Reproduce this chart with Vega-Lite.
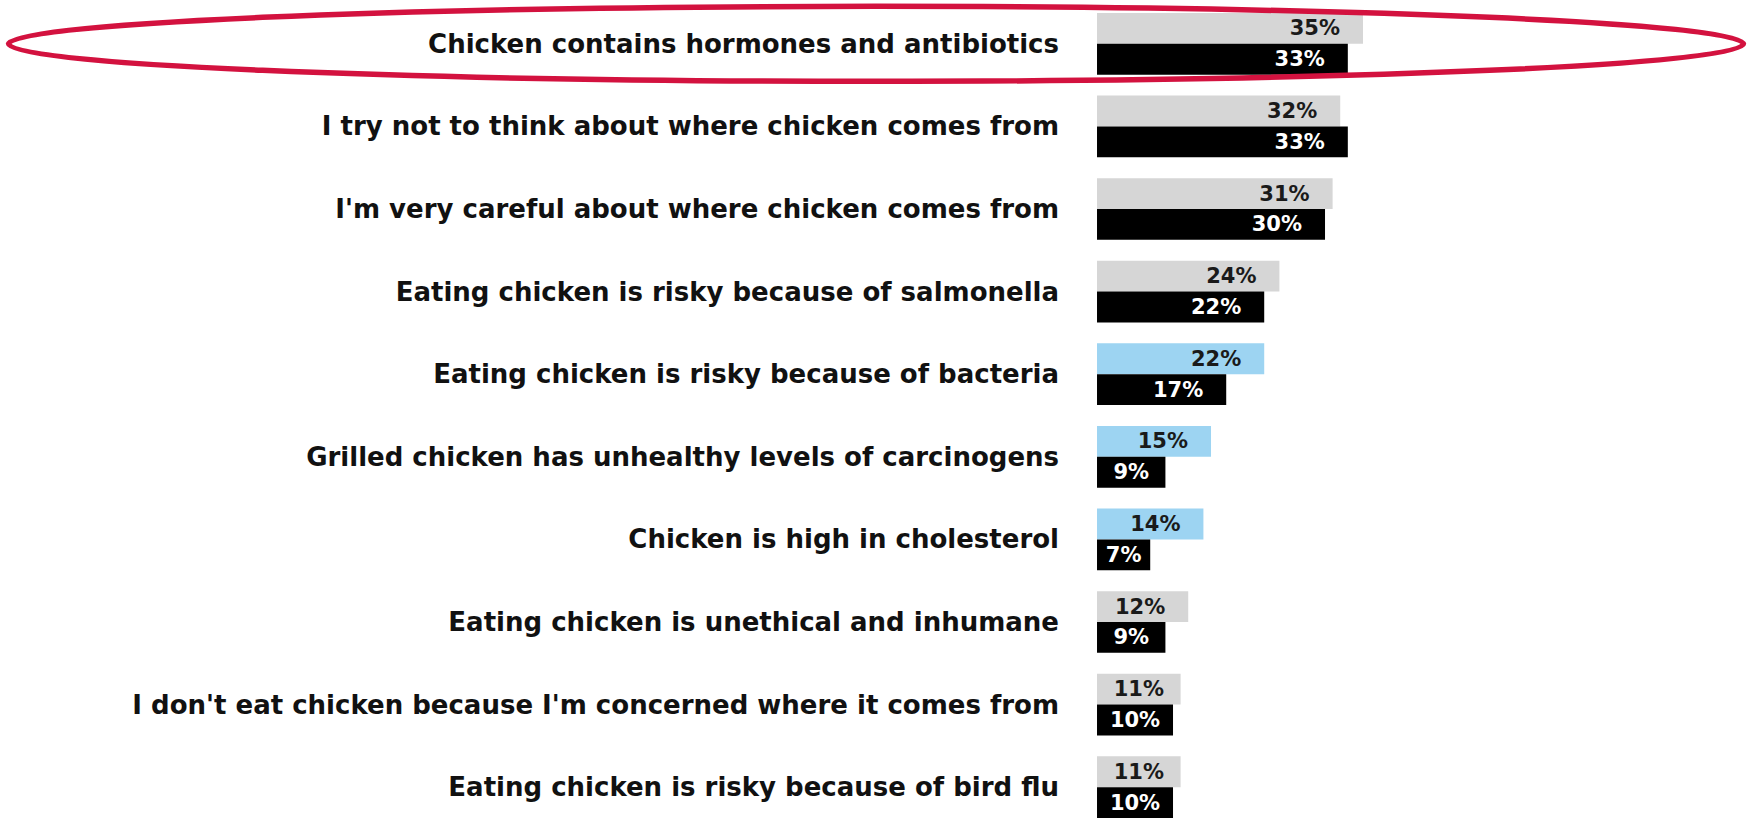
{
  "$schema": "https://vega.github.io/schema/vega-lite/v6.json",
  "width": 1752,
  "height": 805,
  "autosize": {"type": "none"},
  "padding": {"top": 13, "left": 0, "right": 0, "bottom": 0},
  "background": "white",
  "config": {"view": {"stroke": null}},
  "datasets": {
    "survey": [
      {"category": "Chicken contains hormones and antibiotics", "group": "A", "tone": "base", "share": 0.35},
      {"category": "Chicken contains hormones and antibiotics", "group": "B", "tone": "segment", "share": 0.33},
      {"category": "I try not to think about where chicken comes from", "group": "A", "tone": "base", "share": 0.32},
      {"category": "I try not to think about where chicken comes from", "group": "B", "tone": "segment", "share": 0.33},
      {"category": "I'm very careful about where chicken comes from", "group": "A", "tone": "base", "share": 0.31},
      {"category": "I'm very careful about where chicken comes from", "group": "B", "tone": "segment", "share": 0.30},
      {"category": "Eating chicken is risky because of salmonella", "group": "A", "tone": "base", "share": 0.24},
      {"category": "Eating chicken is risky because of salmonella", "group": "B", "tone": "segment", "share": 0.22},
      {"category": "Eating chicken is risky because of bacteria", "group": "A", "tone": "highlight", "share": 0.22},
      {"category": "Eating chicken is risky because of bacteria", "group": "B", "tone": "segment", "share": 0.17},
      {"category": "Grilled chicken has unhealthy levels of carcinogens", "group": "A", "tone": "highlight", "share": 0.15},
      {"category": "Grilled chicken has unhealthy levels of carcinogens", "group": "B", "tone": "segment", "share": 0.09},
      {"category": "Chicken is high in cholesterol", "group": "A", "tone": "highlight", "share": 0.14},
      {"category": "Chicken is high in cholesterol", "group": "B", "tone": "segment", "share": 0.07},
      {"category": "Eating chicken is unethical and inhumane", "group": "A", "tone": "base", "share": 0.12},
      {"category": "Eating chicken is unethical and inhumane", "group": "B", "tone": "segment", "share": 0.09},
      {"category": "I don't eat chicken because I'm concerned where it comes from", "group": "A", "tone": "base", "share": 0.11},
      {"category": "I don't eat chicken because I'm concerned where it comes from", "group": "B", "tone": "segment", "share": 0.10},
      {"category": "Eating chicken is risky because of bird flu", "group": "A", "tone": "base", "share": 0.11},
      {"category": "Eating chicken is risky because of bird flu", "group": "B", "tone": "segment", "share": 0.10}
    ],
    "callout": [
      {"category": "Chicken contains hormones and antibiotics"}
    ]
  },
  "resolve": {"scale": {"x": "independent"}},
  "layer": [
    {
      "data": {"name": "survey"},
      "mark": {"type": "bar"},
      "encoding": {
        "y": {"field": "category", "type": "nominal", "axis": null,
          "scale": {"domain": [
            "Chicken contains hormones and antibiotics",
            "I try not to think about where chicken comes from",
            "I'm very careful about where chicken comes from",
            "Eating chicken is risky because of salmonella",
            "Eating chicken is risky because of bacteria",
            "Grilled chicken has unhealthy levels of carcinogens",
            "Chicken is high in cholesterol",
            "Eating chicken is unethical and inhumane",
            "I don't eat chicken because I'm concerned where it comes from",
            "Eating chicken is risky because of bird flu"
          ], "paddingInner": 0.253, "paddingOuter": 0}},
        "yOffset": {"field": "group", "type": "nominal", "scale": {"paddingInner": 0, "paddingOuter": 0}},
        "x": {"field": "share", "type": "quantitative", "axis": null,
          "scale": {"domain": [-1.4434, 0.8618], "nice": false, "zero": false}},
        "color": {"field": "tone", "type": "nominal", "legend": null,
          "scale": {"domain": ["base", "highlight", "segment"], "range": ["#d6d6d6", "#9dd4f2", "#000000"]}}
      }
    },
    {
      "data": {"name": "survey"},
      "transform": [{"filter": "datum.share >= 0.12"}],
      "mark": {"type": "text", "align": "right", "baseline": "middle", "dx": -23, "dy": 1,
        "font": "DejaVu Sans", "fontWeight": "bold", "fontSize": 21},
      "encoding": {
        "y": {"field": "category", "type": "nominal", "axis": null},
        "yOffset": {"field": "group", "type": "nominal"},
        "x": {"field": "share", "type": "quantitative", "axis": null,
          "scale": {"domain": [-1.4434, 0.8618], "nice": false, "zero": false}},
        "text": {"field": "share", "type": "quantitative", "format": ".0%"},
        "color": {"condition": {"test": "datum.group === 'B'", "value": "#ffffff"}, "value": "#1a1a1a"}
      }
    },
    {
      "data": {"name": "survey"},
      "transform": [{"filter": "datum.share < 0.12"}],
      "mark": {"type": "text", "align": "center", "baseline": "middle", "dy": 1,
        "font": "DejaVu Sans", "fontWeight": "bold", "fontSize": 21},
      "encoding": {
        "y": {"field": "category", "type": "nominal", "axis": null},
        "yOffset": {"field": "group", "type": "nominal"},
        "x": {"field": "share", "type": "quantitative", "axis": null,
          "scale": {"domain": [-2.8868, 1.7236], "nice": false, "zero": false}},
        "text": {"field": "share", "type": "quantitative", "format": ".0%"},
        "color": {"condition": {"test": "datum.group === 'B'", "value": "#ffffff"}, "value": "#1a1a1a"}
      }
    },
    {
      "data": {"name": "survey"},
      "transform": [{"filter": "datum.group === 'A'"}],
      "mark": {"type": "text", "align": "right", "baseline": "middle", "dx": -38, "dy": 1,
        "font": "DejaVu Sans", "fontWeight": "bold", "fontSize": 26, "color": "#111111"},
      "encoding": {
        "y": {"field": "category", "type": "nominal", "axis": null},
        "x": {"datum": 0, "type": "quantitative", "axis": null,
          "scale": {"domain": [-1.4434, 0.8618], "nice": false, "zero": false}},
        "text": {"field": "category", "type": "nominal"}
      }
    },
    {
      "data": {"name": "callout"},
      "mark": {"type": "point", "filled": false, "opacity": 1, "strokeWidth": 5.5, "color": "#d3123f",
        "shape": "M -1 0 C -1 -0.02386 -0.5523 -0.0432 0 -0.0432 C 0.5523 -0.0432 1 -0.02386 1 0 C 1 0.02386 0.5523 0.0432 0 0.0432 C -0.5523 0.0432 -1 0.02386 -1 0 Z",
        "size": 3010225},
      "encoding": {
        "y": {"field": "category", "type": "nominal", "axis": null}
      }
    }
  ]
}
